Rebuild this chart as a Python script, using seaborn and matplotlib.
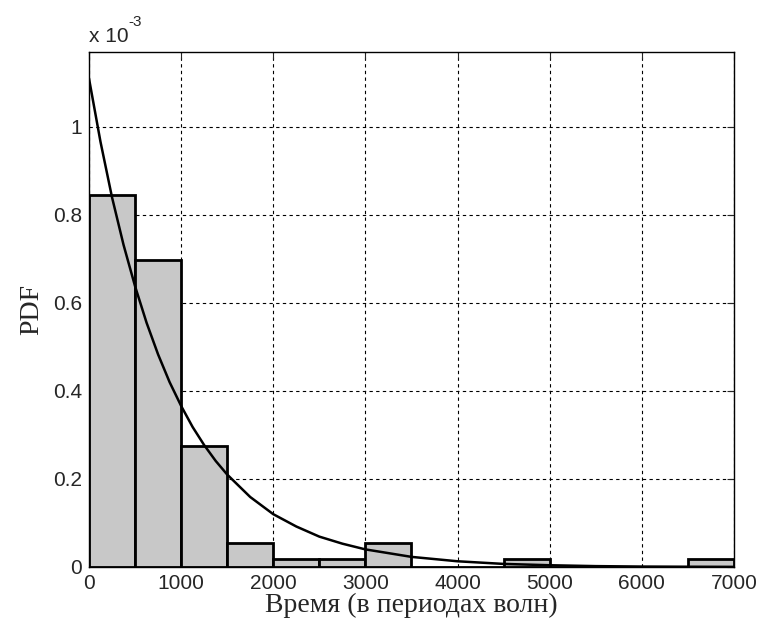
import numpy as np
import matplotlib
matplotlib.use('Agg')
import matplotlib.pyplot as plt
from matplotlib.ticker import FuncFormatter
import seaborn as sns

# Histogram bins (width 500) and PDF heights
bin_edges = [0, 500, 1000, 1500, 2000, 2500, 3000, 3500, 4000, 4500, 5000, 5500, 6000, 6500, 7000]
bin_pdf = [0.844e-3, 0.697e-3, 0.275e-3, 0.055e-3, 0.018e-3, 0.018e-3, 0.055e-3,
           0.0, 0.0, 0.018e-3, 0.0, 0.0, 0.0, 0.018e-3]

# Fitted curve, points
curve_x = [0, 125, 250, 375, 500, 625, 750, 875, 1000, 1125, 1250, 1375, 1500,
           1750, 2000, 2250, 2500, 2750, 3000, 3500, 4000, 4500, 5000, 5500,
           6000, 6500, 7000]
curve_y = [1.11e-3, 0.966e-3, 0.84e-3, 0.732e-3, 0.638e-3, 0.555e-3, 0.483e-3,
           0.420e-3, 0.366e-3, 0.318e-3, 0.277e-3, 0.241e-3, 0.21e-3,
           0.159e-3, 0.12e-3, 0.092e-3, 0.069e-3, 0.053e-3, 0.040e-3, 0.023e-3,
           0.013e-3, 0.007e-3, 0.004e-3, 0.002e-3, 0.001e-3, 0.0006e-3, 0.0003e-3]

xticks = [0, 1000, 2000, 3000, 4000, 5000, 6000, 7000]
yticks = [0, 0.2e-3, 0.4e-3, 0.6e-3, 0.8e-3, 1.0e-3]

sns.set_style('white')
plt.rcParams['font.family'] = ['Liberation Sans', 'DejaVu Sans']
plt.rcParams['xtick.direction'] = 'in'
plt.rcParams['ytick.direction'] = 'in'

fig = plt.figure(figsize=(7.63, 6.30), dpi=100)
ax = fig.add_axes([0.1166, 0.1, 0.8454, 0.8175])

centers = [(a + b) / 2 for a, b in zip(bin_edges[:-1], bin_edges[1:])]
sns.histplot(x=centers, weights=bin_pdf, bins=bin_edges, stat='count',
             color='#c8c8c8', edgecolor='black', linewidth=2, alpha=1, ax=ax)
sns.lineplot(x=curve_x, y=curve_y, color='black', linewidth=1.8, ax=ax)

ax.set_xlim(0, 7000)
ax.set_ylim(0, 1.17e-3)
ax.set_xticks(xticks)
ax.set_yticks(yticks)
ax.yaxis.set_major_formatter(FuncFormatter(lambda v, p: '%g' % round(v * 1e3, 3)))
ax.tick_params(labelsize=15, length=5, width=0.8, top=True, right=True, pad=5)
ax.grid(True, color='black', linestyle=(0, (3, 3)), linewidth=0.8)
ax.set_axisbelow(True)
for s in ax.spines.values():
    s.set_color('black')
    s.set_linewidth(1)

ax.set_xlabel('Время (в периодах волн)', family=['Liberation Serif', 'DejaVu Serif'],
              fontsize=20, labelpad=0)
ax.set_ylabel('PDF', family=['Liberation Serif', 'DejaVu Serif'], fontsize=20, labelpad=6)
ax.text(0, 1.012, 'x 10', transform=ax.transAxes, fontsize=15, ha='left', va='bottom')
ax.text(0.061, 1.045, '-3', transform=ax.transAxes, fontsize=11, ha='left', va='bottom')

fig.savefig('out.png', dpi=100)
